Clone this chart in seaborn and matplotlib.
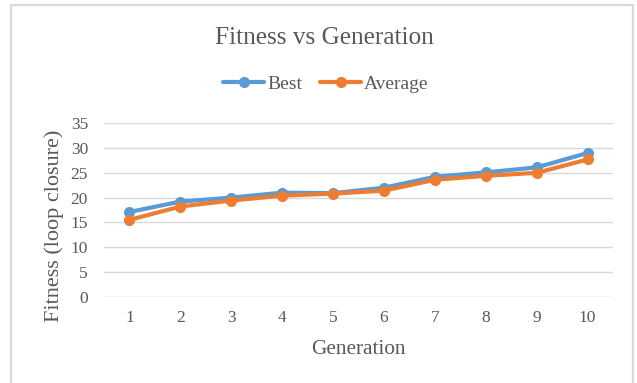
import matplotlib
matplotlib.use("Agg")
import matplotlib.pyplot as plt
import seaborn as sns
import pandas as pd

generations = [1, 2, 3, 4, 5, 6, 7, 8, 9, 10]
best = [17.1, 19.2, 20.0, 21.0, 20.9, 22.0, 24.2, 25.1, 26.1, 29.0]
average = [15.5, 18.2, 19.4, 20.4, 20.8, 21.4, 23.6, 24.4, 25.0, 27.7]
series_names = ["Best", "Average"]
y_ticks = [0, 5, 10, 15, 20, 25, 30, 35]

df = pd.DataFrame({
    "Generation": generations * 2,
    "Fitness": best + average,
    "Series": [series_names[0]] * len(best) + [series_names[1]] * len(average),
})

sns.set_theme(style="white")
plt.rcParams["font.family"] = ["Liberation Serif", "DejaVu Serif"]
text_color = "#595959"

fig = plt.figure(figsize=(6.37, 3.83), dpi=100)
ax = fig.add_axes([104 / 637, 86.3 / 383, 509 / 637, 173.4 / 383])

sns.lineplot(
    data=df, x="Generation", y="Fitness", hue="Series",
    hue_order=series_names, palette=["#5B9BD5", "#ED7D31"],
    marker="o", markersize=8, markeredgewidth=0, linewidth=3,
    ax=ax, legend=True,
)

ax.set_xlim(0.5, 10.5)
ax.set_ylim(0, 35)
ax.set_xticks(generations)
ax.set_yticks(y_ticks)
ax.yaxis.grid(True, color="#d9d9d9", linewidth=1)
ax.xaxis.grid(False)
ax.set_axisbelow(True)
for s in ax.spines.values():
    s.set_visible(False)
ax.tick_params(axis="y", length=0, labelsize=12.5, labelcolor=text_color, pad=11.5)
ax.tick_params(axis="x", length=0, labelsize=12.5, labelcolor=text_color, pad=9.5)

ax.set_xlabel("Generation", fontsize=15.3, color=text_color, labelpad=10)
ax.set_ylabel("Fitness (loop closure)", fontsize=16, color=text_color)
ax.yaxis.set_label_coords(-0.078, 0.408)

fig.text(324 / 637, 1 - 38 / 383, "Fitness vs Generation", ha="center", va="center",
         fontsize=18.2, color=text_color)

handles, labels = ax.get_legend_handles_labels()
ax.legend(handles, labels, loc="center", bbox_to_anchor=(326 / 637, 1 - 84 / 383),
          bbox_transform=fig.transFigure, ncol=2, frameon=False,
          fontsize=14, labelcolor=text_color, handlelength=2.1,
          handletextpad=0.15, columnspacing=0.95)

# light frame around the chart area
frame = plt.Rectangle((11 / 637, -0.05), 621.5 / 637, 1 - 4.5 / 383 + 0.05,
                      transform=fig.transFigure, fill=False,
                      edgecolor="#d9d9d9", linewidth=1.6)
fig.patches.append(frame)

fig.savefig("out.png", dpi=100)
